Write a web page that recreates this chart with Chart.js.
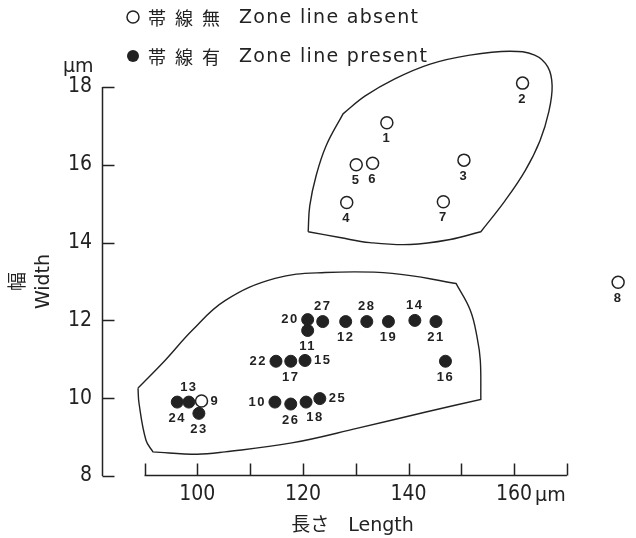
<!DOCTYPE html>
<html>
<head>
<meta charset="utf-8">
<script src="https://cdn.jsdelivr.net/npm/chart.js@4/dist/chart.umd.min.js"></script>
<style>
html,body{margin:0;padding:0;background:#fff;}
#wrap{width:636px;height:538px;}
</style>
</head>
<body>
<div id="wrap"><canvas id="c" width="636" height="538"></canvas></div>
<script>
// ---- data ----
const absentIds    = [1, 2, 3, 4, 5, 6, 7, 8, 9];
const absentLength = [135.9, 161.6, 150.5, 128.3, 130.1, 133.2, 146.6, 179.7, 100.8];
const absentWidth  = [17.08, 18.1, 16.12, 15.03, 16.0, 16.04, 15.05, 12.98, 9.93];
const absentLabelSide = ['b','b','b','b','b','b','b','b','r'];

const presentIds    = [10, 11, 12, 13, 14, 15, 16, 17, 18, 19, 20, 21, 22, 23, 24, 25, 26, 27, 28];
const presentLength = [114.7, 120.9, 128.1, 98.4, 141.2, 120.4, 147.0, 117.7, 120.6, 136.2, 120.9, 145.2, 114.9, 100.3, 96.2, 123.2, 117.7, 123.75, 132.1];
const presentWidth  = [9.9, 11.74, 11.97, 9.9, 12.0, 10.97, 10.95, 10.95, 9.9, 11.97, 12.02, 11.97, 10.95, 9.61, 9.9, 9.99, 9.85, 11.97, 11.97];
const presentLabelSide = ['l','b','b','t','t','r','b','b','br','b','l','b','l','b','b','r','b','t','t'];

// hand-drawn group envelopes (data units; corner vertices repeated)
const upperEnvLength = [121.0, 121.0, 121.3, 122.5, 124.4, 127.6, 127.6, 131.8, 137.4, 144.1, 151.6, 159.2, 163.9, 166.4, 167.2, 166.6, 164.9, 162.1, 158.3, 153.7, 153.7, 147.9, 140.3, 132.7, 127.0, 121.0, 121.0];
const upperEnvWidth  = [14.28, 14.28, 14.95, 15.72, 16.49, 17.31, 17.31, 17.77, 18.21, 18.59, 18.82, 18.92, 18.82, 18.51, 18.03, 17.38, 16.62, 15.85, 15.08, 14.28, 14.28, 14.08, 13.95, 14.0, 14.13, 14.28, 14.28];
const lowerEnvLength = [88.77, 88.77, 93.88, 99.0, 105.25, 114.72, 124.2, 136.9, 149.0, 149.0, 151.7, 153.0, 153.6, 153.7, 153.7, 143.1, 130.4, 117.9, 105.25, 99.94, 91.6, 91.6, 90.28, 88.96, 88.77, 88.77];
const lowerEnvWidth  = [10.26, 10.26, 10.97, 11.74, 12.51, 13.08, 13.23, 13.21, 12.95, 12.95, 12.26, 11.56, 10.97, 9.97, 9.97, 9.64, 9.23, 8.85, 8.62, 8.56, 8.62, 8.62, 8.92, 9.87, 10.26, 10.26];

const xTickValues = [90, 100, 110, 120, 130, 140, 150, 160, 170];
const xTickLabelled = [100, 120, 140, 160];
const yTickValues = [8, 10, 12, 14, 16, 18];

const legendRows = [
  {jp: ['帯', '線', '無'], en: 'Zone line absent', filled: false},
  {jp: ['帯', '線', '有'], en: 'Zone line present', filled: true}
];
const xTitle = '長さ　Length\u3000 ';
const yTitle = ['幅', 'Width'];
const unitText = 'µm';

// ---- styling ----
const INK = '#222';
const LATIN = "'DejaVu Sans', 'Noto Sans CJK JP', sans-serif";
const NARROW = "'Liberation Sans Narrow', 'DejaVu Sans Condensed', sans-serif";
const CJK = "'Noto Sans CJK JP', sans-serif";

function pts(xs, ys) { return xs.map((x, i) => ({x: x, y: ys[i]})); }

const decor = {
  id: 'decor',
  afterDatasetsDraw(chart) {
    const ctx = chart.ctx;
    const xs = chart.scales.x, ys = chart.scales.y;
    const ca = chart.chartArea;
    ctx.save();
    ctx.strokeStyle = INK;
    ctx.fillStyle = INK;
    ctx.lineWidth = 1.5;
    ctx.lineCap = 'butt';
    // y axis
    const yAx = Math.round(ca.left) + 0.5;
    ctx.beginPath();
    ctx.moveTo(yAx, ys.getPixelForValue(yTickValues[0]));
    ctx.lineTo(yAx, ys.getPixelForValue(yTickValues[yTickValues.length - 1]));
    yTickValues.forEach(v => {
      const p = Math.round(ys.getPixelForValue(v)) + 0.5;
      ctx.moveTo(yAx, p); ctx.lineTo(yAx + 12, p);
    });
    ctx.stroke();
    // x axis (starts at 90)
    const xAy = Math.round(ys.getPixelForValue(yTickValues[0])) - 0.5;
    ctx.beginPath();
    ctx.moveTo(xs.getPixelForValue(xTickValues[0]), xAy);
    ctx.lineTo(xs.getPixelForValue(xTickValues[xTickValues.length - 1]), xAy);
    xTickValues.forEach(v => {
      const p = Math.round(xs.getPixelForValue(v)) + 0.5;
      ctx.moveTo(p, xAy); ctx.lineTo(p, xAy - 12);
    });
    ctx.stroke();

    // units
    ctx.font = '19px ' + LATIN;
    ctx.textBaseline = 'middle';
    ctx.textAlign = 'left';
    ctx.fillText(unitText, 63, 67);
    ctx.fillText(unitText, xs.getPixelForValue(xTickLabelled[xTickLabelled.length - 1]) + 21, 496);

    // legend
    legendRows.forEach((row, r) => {
      const cy = 17 + r * 39;
      ctx.beginPath();
      ctx.arc(133, cy, 6, 0, Math.PI * 2);
      if (row.filled) { ctx.fill(); } else { ctx.fillStyle = '#fff'; ctx.fill(); ctx.fillStyle = INK; ctx.stroke(); }
      ctx.font = '18px ' + CJK;
      ctx.textAlign = 'left';
      row.jp.forEach((ch, k) => ctx.fillText(ch, 148 + k * 27, cy + 1));
      ctx.font = '19px ' + LATIN;
      const target = r === 0 ? 179 : 188;
      const w = ctx.measureText(row.en).width;
      ctx.letterSpacing = ((target - w) / (row.en.length - 1)).toFixed(2) + 'px';
      ctx.fillText(row.en, 239, cy + 1);
      ctx.letterSpacing = '0px';
    });

    // point number labels
    ctx.font = 'bold 13px ' + "'Liberation Sans', sans-serif";
    ctx.letterSpacing = '1.5px';
    const groups = [[0, absentIds, absentLabelSide], [1, presentIds, presentLabelSide]];
    groups.forEach(([di, ids, sides]) => {
      const meta = chart.getDatasetMeta(di);
      meta.data.forEach((el, i) => {
        const s = sides[i];
        let x = el.x, y = el.y, al = 'center';
        if (s === 'b') { y += 16; }
        else if (s === 't') { y -= 15; }
        else if (s === 'l') { x -= 9; al = 'right'; }
        else if (s === 'r') { x += 9; al = 'left'; }
        else if (s === 'br') { x += 9; y += 15; }
        ctx.textAlign = al;
        ctx.fillText(String(ids[i]), x, y);
      });
    });
    ctx.restore();
  }
};

new Chart(document.getElementById('c'), {
  type: 'scatter',
  data: {
    datasets: [
      {
        label: '帯線無 Zone line absent',
        data: pts(absentLength, absentWidth),
        pointRadius: 6, pointHoverRadius: 6,
        pointBackgroundColor: '#fff', pointBorderColor: INK, pointBorderWidth: 1.5,
        clip: false
      },
      {
        label: '帯線有 Zone line present',
        data: pts(presentLength, presentWidth),
        pointRadius: 6, pointHoverRadius: 6,
        pointBackgroundColor: INK, pointBorderColor: INK, pointBorderWidth: 1,
        clip: false
      },
      {
        label: 'upper group',
        data: pts(upperEnvLength, upperEnvWidth),
        showLine: true, pointRadius: 0, borderColor: INK, borderWidth: 1.4,
        tension: 0.4, fill: false, clip: false
      },
      {
        label: 'lower group',
        data: pts(lowerEnvLength, lowerEnvWidth),
        showLine: true, pointRadius: 0, borderColor: INK, borderWidth: 1.4,
        tension: 0.4, fill: false, clip: false
      }
    ]
  },
  options: {
    responsive: false,
    animation: false,
    events: [],
    layout: {padding: {left: 0, right: 8, top: 87, bottom: 0}},
    elements: {line: {capBezierPoints: false}},
    plugins: {legend: {display: false}, tooltip: {enabled: false}},
    scales: {
      x: {
        type: 'linear', min: 81.95, max: 181.57,
        grid: {display: false, drawTicks: false},
        border: {display: false},
        afterBuildTicks: s => { s.ticks = xTickValues.map(v => ({value: v})); },
        afterFit: s => { s.height = 62; },
        ticks: {
          autoSkip: false, maxRotation: 0, padding: 6, color: INK,
          font: {family: NARROW, size: 21},
          callback: v => xTickLabelled.includes(v) ? String(v) : ''
        },
        title: {display: true, text: xTitle, color: INK, font: {family: LATIN, size: 19}, padding: {top: 0, bottom: 1}}
      },
      y: {
        type: 'linear', min: 8, max: 18,
        grid: {display: false, drawTicks: false},
        border: {display: false},
        afterBuildTicks: s => { s.ticks = yTickValues.map(v => ({value: v})); },
        afterFit: s => { s.width = 102; },
        ticks: {padding: 10, color: INK, font: {family: NARROW, size: 21}},
        title: {display: true, text: yTitle, color: INK, font: {family: LATIN, size: 19, lineHeight: 1.3}, padding: {top: 7, bottom: 0}}
      }
    }
  },
  plugins: [decor]
});
</script>
</body>
</html>
